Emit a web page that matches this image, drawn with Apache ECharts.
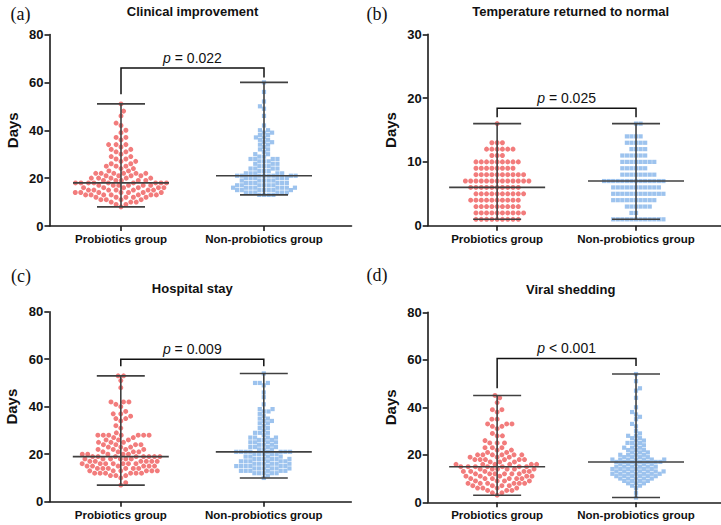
<!DOCTYPE html>
<html><head><meta charset="utf-8">
<script src="https://cdn.jsdelivr.net/npm/echarts@6/dist/echarts.min.js"></script>
<style>html,body{margin:0;padding:0;background:#fff}#c{width:721px;height:525px}</style>
</head><body><div id="c"></div>
<script>
// ---------------- data ----------------
const categories = ['Probiotics group', 'Non-probiotics group'];
const panelTitles = ['Clinical improvement', 'Temperature returned to normal', 'Hospital stay', 'Viral shedding'];
const panelLetters = ['(a)', '(b)', '(c)', '(d)'];
const yMaxes = [80, 30, 80, 80];
const yIntervals = [20, 10, 20, 20];
const yAxisName = 'Days';

// (a) Clinical improvement — days and number of patients at each day
const aProbDays   = [8,9,10,11,12,13,14,15,16,17,18,19,20,21,22,23,24,25,26,27,28,29,30,31,32,33,34,36,37,39,40,42,43,46,48,51];
const aProbCounts = [1,2,3,4,5,7,7,7,6,6,9,5,5,4,6,2,2,3,2,2,2,2,1,2,2,1,3,1,2,1,1,1,1,1,1,1];
const aNonDays    = [13,14,15,16,17,18,19,20,21,22,23,24,25,26,27,28,29,30,31,32,33,34,35,36,37,38,39,40,42,46,49,50,52,56,60];
const aNonCounts  = [4,6,7,8,6,6,5,6,8,5,3,4,3,3,3,4,2,2,1,2,1,2,2,2,2,2,2,2,1,1,1,1,1,1,1];

// (b) Temperature returned to normal
const bProbDays   = [1,2,3,4,5,6,7,8,9,10,11,12,13,16];
const bProbCounts = [9,10,9,10,10,10,13,10,8,9,3,6,3,1];
const bNonDays    = [1,2,3,4,5,6,7,8,9,10,11,12,13,14,16];
const bNonCounts  = [12,2,6,10,12,11,14,8,6,8,6,4,5,4,2];

// (c) Hospital stay
const cProbDays   = [7,8,10,11,12,13,14,15,16,17,18,19,20,21,22,23,24,25,26,27,28,29,31,32,34,35,36,37,38,40,41,42,48,51,53];
const cProbCounts = [1,1,1,3,6,6,6,6,7,6,6,8,5,4,4,3,4,3,3,2,7,1,1,1,1,2,1,2,1,1,1,3,1,1,2];
const cNonDays    = [10,11,12,13,14,15,16,17,18,19,20,21,22,23,24,25,26,27,28,29,30,31,32,33,34,35,36,37,38,39,41,44,46,49,50,54];
const cNonCounts  = [1,1,5,6,6,7,6,6,6,4,5,8,3,4,3,4,3,4,1,3,1,2,1,2,2,2,1,1,2,2,1,1,1,1,3,1];

// (d) Viral shedding
const dProbDays   = [3,4,5,6,7,8,9,10,11,12,13,14,15,16,17,18,19,20,21,22,23,25,26,28,29,31,32,33,35,38,39,42,44,45];
const dProbCounts = [1,2,3,4,4,6,4,6,5,6,5,6,7,6,3,6,3,6,2,2,3,3,1,2,1,1,2,3,2,1,2,1,1,1];
const dNonDays    = [2,4,6,7,8,9,10,11,12,13,14,15,16,17,18,19,20,21,22,23,24,25,26,27,28,29,30,32,33,35,36,37,38,40,44,47,48,51,54];
const dNonCounts  = [1,1,1,2,3,4,5,6,7,7,6,6,5,7,7,4,4,3,3,3,2,3,2,2,2,1,1,1,1,1,1,1,1,1,1,1,1,1,1];

// summary lines: [min, median, max] for probiotics / non-probiotics
const aSummary = [[8, 18, 51], [13, 21, 60]];
const bSummary = [[1, 6, 16], [1, 7, 16]];
const cSummary = [[7, 19, 53], [10, 21, 54]];
const dSummary = [[3, 15, 45], [2, 17, 54]];

// significance brackets: [bar level, left leg end, right leg end]
const aBracket = [66, 55, 62];
const bBracket = [18.4, 17.0, 17.0];
const cBracket = [60, 57, 57];
const dBracket = [60.6, 48, 57.4];
const pTexts = ['= 0.022', '= 0.025', '= 0.009', '< 0.001'];

// ---------------- layout / style ----------------
const FONT = '"Liberation Sans", Arial, Helvetica, sans-serif';
const SERIF = '"Liberation Serif", "Times New Roman", serif';
const AXIS_COLOR = '#1a1a1a';
const BAR_COLOR = '#404040';
const RED = '#F27C7C';
const BLUE = '#9DC3EE';
const BAND = 143;           // px between category centres
const grids = [
  { left: 49.5,  top: 34.5,  width: 302, height: 191.5 },
  { left: 427.7, top: 34.3,  width: 302, height: 191.4 },
  { left: 49.3,  top: 311.7, width: 302, height: 190 },
  { left: 427.7, top: 312.3, width: 302, height: 190 }
];

const panels = [
  { prob: [aProbDays, aProbCounts], non: [aNonDays, aNonCounts], summary: aSummary, bracket: aBracket },
  { prob: [bProbDays, bProbCounts], non: [bNonDays, bNonCounts], summary: bSummary, bracket: bBracket },
  { prob: [cProbDays, cProbCounts], non: [cNonDays, cNonCounts], summary: cSummary, bracket: cBracket },
  { prob: [dProbDays, dProbCounts], non: [dNonDays, dNonCounts], summary: dSummary, bracket: dBracket }
];

function expand(days, counts) {
  const out = [];
  days.forEach((d, i) => { for (let k = 0; k < counts[i]; k++) out.push(d); });
  return out;
}

// beeswarm layout: horizontal pixel offsets so that markers do not overlap
function swarm(values, pxPerUnit, d) {
  const placed = [];
  const sorted = values.slice().sort((a, b) => a - b);
  let flip = 1;
  for (const v of sorted) {
    const y = v * pxPerUnit;
    const nb = placed.filter(p => Math.abs(p.y - y) < d - 1e-9);
    const cands = [0];
    for (const p of nb) {
      const dx = Math.sqrt(d * d - (p.y - y) * (p.y - y));
      cands.push(p.x + dx, p.x - dx);
    }
    cands.sort((a, b) => {
      const da = Math.abs(a) - Math.abs(b);
      if (Math.abs(da) > 1e-6) return da;
      return flip * (b - a);
    });
    let best = 0;
    for (const c of cands) {
      if (nb.every(p => (p.x - c) * (p.x - c) + (p.y - y) * (p.y - y) >= d * d - 1e-6)) { best = c; break; }
    }
    if (Math.abs(best) > 1e-6) flip = -flip;
    placed.push({ x: best, y: y, v: v });
  }
  return placed;
}

const xAxes = [], yAxes = [], series = [], graphics = [];
const centers = [0.5, 1.5];

panels.forEach((P, k) => {
  const g = grids[k];
  const pxPerUnit = g.height / yMaxes[k];
  xAxes.push({
    gridIndex: k, type: 'value', min: 0, max: g.width / BAND,
    axisLine: { show: true, onZero: false, lineStyle: { color: AXIS_COLOR, width: 1.6 } },
    axisTick: { show: true, customValues: centers, length: 5, lineStyle: { color: AXIS_COLOR, width: 1.6 } },
    axisLabel: { show: true, customValues: centers, margin: 7,
      formatter: v => categories[Math.round(v - 0.5)] || '',
      fontFamily: FONT, fontWeight: 'bold', fontSize: 11.5, color: '#111' },
    splitLine: { show: false }
  });
  yAxes.push({
    gridIndex: k, type: 'value', min: 0, max: yMaxes[k], interval: yIntervals[k],
    name: yAxisName, nameLocation: 'middle', nameGap: 30,
    nameTextStyle: { fontFamily: FONT, fontWeight: 'bold', fontSize: 15, color: '#111' },
    axisLine: { show: true, onZero: false, lineStyle: { color: AXIS_COLOR, width: 1.6 } },
    axisTick: { show: true, length: 5, lineStyle: { color: AXIS_COLOR, width: 1.6 } },
    axisLabel: { fontFamily: FONT, fontWeight: 'bold', fontSize: 13, color: '#111', margin: 6 },
    splitLine: { show: false }
  });

  const groups = [
    { src: P.prob, symbol: 'circle', size: 5, gap: 5.45, color: RED },
    { src: P.non, symbol: 'rect', size: 4.2, gap: 4.7, color: BLUE }
  ];
  groups.forEach((G, gi) => {
    const pts = swarm(expand(G.src[0], G.src[1]), pxPerUnit, G.gap);
    series.push({
      type: 'scatter', xAxisIndex: k, yAxisIndex: k, symbol: G.symbol, symbolSize: G.size,
      itemStyle: { color: G.color, opacity: 1 }, silent: true, z: 2,
      data: pts.map(p => [centers[gi] + p.x / BAND, p.v])
    });
  });

  // median + range lines
  series.push({
    type: 'custom', xAxisIndex: k, yAxisIndex: k, silent: true, z: 5,
    data: P.summary.map((s, i) => [centers[i], s[0], s[1], s[2]]),
    renderItem: (params, api) => {
      const x = api.value(0);
      const pMin = api.coord([x, api.value(1)]);
      const pMed = api.coord([x, api.value(2)]);
      const pMax = api.coord([x, api.value(3)]);
      const st = { stroke: BAR_COLOR, lineWidth: 1.6 };
      const cap = 24, med = 48;
      return { type: 'group', children: [
        { type: 'line', shape: { x1: pMin[0], y1: pMin[1], x2: pMax[0], y2: pMax[1] }, style: st },
        { type: 'line', shape: { x1: pMin[0] - cap, y1: pMin[1], x2: pMin[0] + cap, y2: pMin[1] }, style: st },
        { type: 'line', shape: { x1: pMax[0] - cap, y1: pMax[1], x2: pMax[0] + cap, y2: pMax[1] }, style: st },
        { type: 'line', shape: { x1: pMed[0] - med, y1: pMed[1], x2: pMed[0] + med, y2: pMed[1] }, style: st }
      ] };
    }
  });

  // significance bracket
  const ptxt = pTexts[k];
  series.push({
    type: 'custom', xAxisIndex: k, yAxisIndex: k, silent: true, z: 5,
    data: [[centers[0], centers[1], P.bracket[0], P.bracket[1], P.bracket[2]]],
    renderItem: (params, api) => {
      const top0 = api.coord([api.value(0), api.value(2)]);
      const top1 = api.coord([api.value(1), api.value(2)]);
      const end0 = api.coord([api.value(0), api.value(3)]);
      const end1 = api.coord([api.value(1), api.value(4)]);
      const mx = (top0[0] + top1[0]) / 2;
      return { type: 'group', children: [
        { type: 'polyline', shape: { points: [end0, top0, top1, end1] },
          style: { stroke: '#111', lineWidth: 1.5, fill: null } },
        { type: 'text', x: mx, y: top0[1] - 10,
          style: { text: '{i|p} ' + ptxt, fill: '#111', font: '14px ' + FONT,
            align: 'center', verticalAlign: 'middle', textAlign: 'center', textVerticalAlign: 'middle',
            rich: { i: { fontStyle: 'italic', fontSize: 14, fontFamily: FONT, fill: '#111' } } } }
      ] };
    }
  });

  // panel title
  graphics.push({
    type: 'text', x: g.left + BAND, y: g.top - 23,
    style: { text: panelTitles[k], font: 'bold 13px ' + FONT, fill: '#111',
      align: 'center', verticalAlign: 'middle', textAlign: 'center', textVerticalAlign: 'middle' }
  });
});

const letterPos = [[10.5, 13.5], [366.5, 13.5], [11, 275.5], [366.5, 275]];
panelLetters.forEach((t, i) => {
  graphics.push({
    type: 'text', x: letterPos[i][0], y: letterPos[i][1],
    style: { text: t, font: '18px ' + SERIF, fill: '#111',
      align: 'left', verticalAlign: 'middle', textAlign: 'left', textVerticalAlign: 'middle' }
  });
});

const chart = echarts.init(document.getElementById('c'), null, { renderer: 'svg' });
chart.setOption({
  animation: false,
  backgroundColor: '#fff',
  grid: grids.map(g => ({ left: g.left, top: g.top, width: g.width, height: g.height, containLabel: false })),
  xAxis: xAxes,
  yAxis: yAxes,
  series: series,
  graphic: graphics
});
</script></body></html>
